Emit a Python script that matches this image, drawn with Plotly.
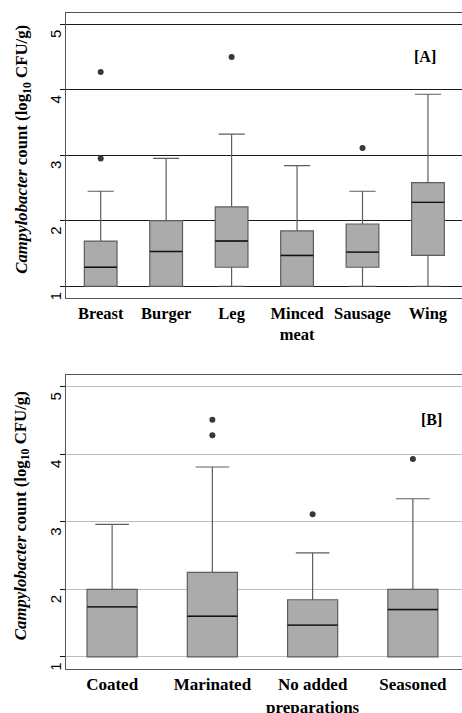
import plotly.graph_objects as go

# ---- Panel A data (meat type) ----
cats_a = ["Breast", "Burger", "Leg", "Minced<br>meat", "Sausage", "Wing"]
q1_a = [1.0, 1.0, 1.29, 1.0, 1.29, 1.47]
med_a = [1.29, 1.53, 1.69, 1.47, 1.52, 2.28]
q3_a = [1.69, 2.0, 2.21, 1.845, 1.95, 2.58]
lo_a = [1.0, 1.0, 1.0, 1.0, 1.0, 1.0]
hi_a = [2.45, 2.95, 3.32, 2.84, 2.45, 3.93]
out_a_x = [0, 0, 2, 4]
out_a_y = [2.95, 4.27, 4.50, 3.11]

# ---- Panel B data (preparation) ----
cats_b = ["Coated", "Marinated", "No added<br>preparations", "Seasoned"]
q1_b = [1.0, 1.0, 1.0, 1.0]
med_b = [1.74, 1.60, 1.47, 1.70]
q3_b = [2.0, 2.25, 1.845, 2.0]
lo_b = [1.0, 1.0, 1.0, 1.0]
hi_b = [2.96, 3.81, 2.54, 3.34]
out_b_x = [1, 1, 2, 3]
out_b_y = [4.28, 4.51, 3.11, 3.93]

yticks = [1, 2, 3, 4, 5]

BOX_W = 0.5
FILL = "#ababab"
EDGE = "#5e5e5e"
SERIF = "Liberation Serif"
SANS = "Liberation Sans"

fig = go.Figure()

def add_panel(cats, q1, med, q3, lo, hi, ox, oy, xa, ya, whisk):
    xs = list(range(len(cats)))
    fig.add_trace(go.Box(
        x=xs, q1=q1, median=med, q3=q3, lowerfence=lo, upperfence=hi,
        width=BOX_W, whiskerwidth=whisk, fillcolor=FILL,
        line=dict(color=EDGE, width=1.2), boxpoints=False,
        xaxis=xa, yaxis=ya, showlegend=False, hoverinfo="skip"))
    mx, my = [], []
    for i, m in zip(xs, med):
        mx += [i - BOX_W / 2, i + BOX_W / 2, None]
        my += [m, m, None]
    fig.add_trace(go.Scatter(x=mx, y=my, mode="lines",
                             line=dict(color="#111111", width=1.4),
                             xaxis=xa, yaxis=ya, showlegend=False, hoverinfo="skip"))
    fig.add_trace(go.Scatter(x=ox, y=oy, mode="markers",
                             marker=dict(color="#383838", size=6),
                             xaxis=xa, yaxis=ya, showlegend=False, hoverinfo="skip"))

add_panel(cats_a, q1_a, med_a, q3_a, lo_a, hi_a, out_a_x, out_a_y, "x", "y", 0.8)
add_panel(cats_b, q1_b, med_b, q3_b, lo_b, hi_b, out_b_x, out_b_y, "x2", "y2", 0.67)

def xax(cats, rng, dom_anchor, size):
    return dict(range=rng, tickvals=list(range(len(cats))), ticktext=cats,
                tickfont=dict(family=SERIF, size=size, color="black", weight="bold"),
                showgrid=False, zeroline=False, showline=True, linecolor="#555555",
                linewidth=1, mirror=True, ticks="", anchor=dom_anchor, domain=[0, 1],
                automargin=False, fixedrange=True)

def yax(dom, grid, anchor):
    return dict(range=[0.82, 5.17], domain=dom, tickvals=yticks,
                ticktext=[str(v) for v in yticks], tickangle=-90,
                tickfont=dict(family=SANS, size=15, color="black"),
                ticklabelshift=12, ticklabelstandoff=-7,
                ticks="outside", ticklen=5, tickcolor="#111111",
                showgrid=True, gridcolor=grid, gridwidth=1, zeroline=False,
                showline=True, linecolor="#555555", linewidth=1, anchor=anchor,
                automargin=False, fixedrange=True)

fig.update_layout(
    template="none",
    width=462, height=713,
    margin=dict(l=66, r=0, t=13, b=44),
    paper_bgcolor="white", plot_bgcolor="white",
    xaxis=xax(cats_a, [-0.53, 5.52], "y", 16.5),
    yaxis=yax([0.5655, 1.0], "#1a1a1a", "x"),
    xaxis2=xax(cats_b, [-0.46, 3.49], "y2", 17),
    yaxis2=yax([0.0, 0.448], "#bdbdbd", "x2"),
)

ytitle = "<b><i>Campylobacter</i> count (log<sub>10</sub> CFU/g)</b>"
fig.add_annotation(text=ytitle, textangle=-90, xref="paper", x=0, xanchor="center",
                   xshift=-43, yref="y domain", y=0.52, yanchor="middle",
                   showarrow=False, font=dict(family=SERIF, size=16.8, color="black"))
fig.add_annotation(text=ytitle, textangle=-90, xref="paper", x=0, xanchor="center",
                   xshift=-44, yref="y2 domain", y=0.52, yanchor="middle",
                   showarrow=False, font=dict(family=SERIF, size=16.8, color="black"))
fig.add_annotation(text="<b>[A]</b>", xref="x domain", yref="y domain", x=0.906, y=0.846,
                   xanchor="center", yanchor="middle",
                   showarrow=False, font=dict(family=SERIF, size=16, color="black"))
fig.add_annotation(text="<b>[B]</b>", xref="x2 domain", yref="y2 domain", x=0.922, y=0.849,
                   xanchor="center", yanchor="middle",
                   showarrow=False, font=dict(family=SERIF, size=16, color="black"))

fig.write_html("out.html", config={"displayModeBar": False},
               post_script="document.body.style.margin='0px';")
